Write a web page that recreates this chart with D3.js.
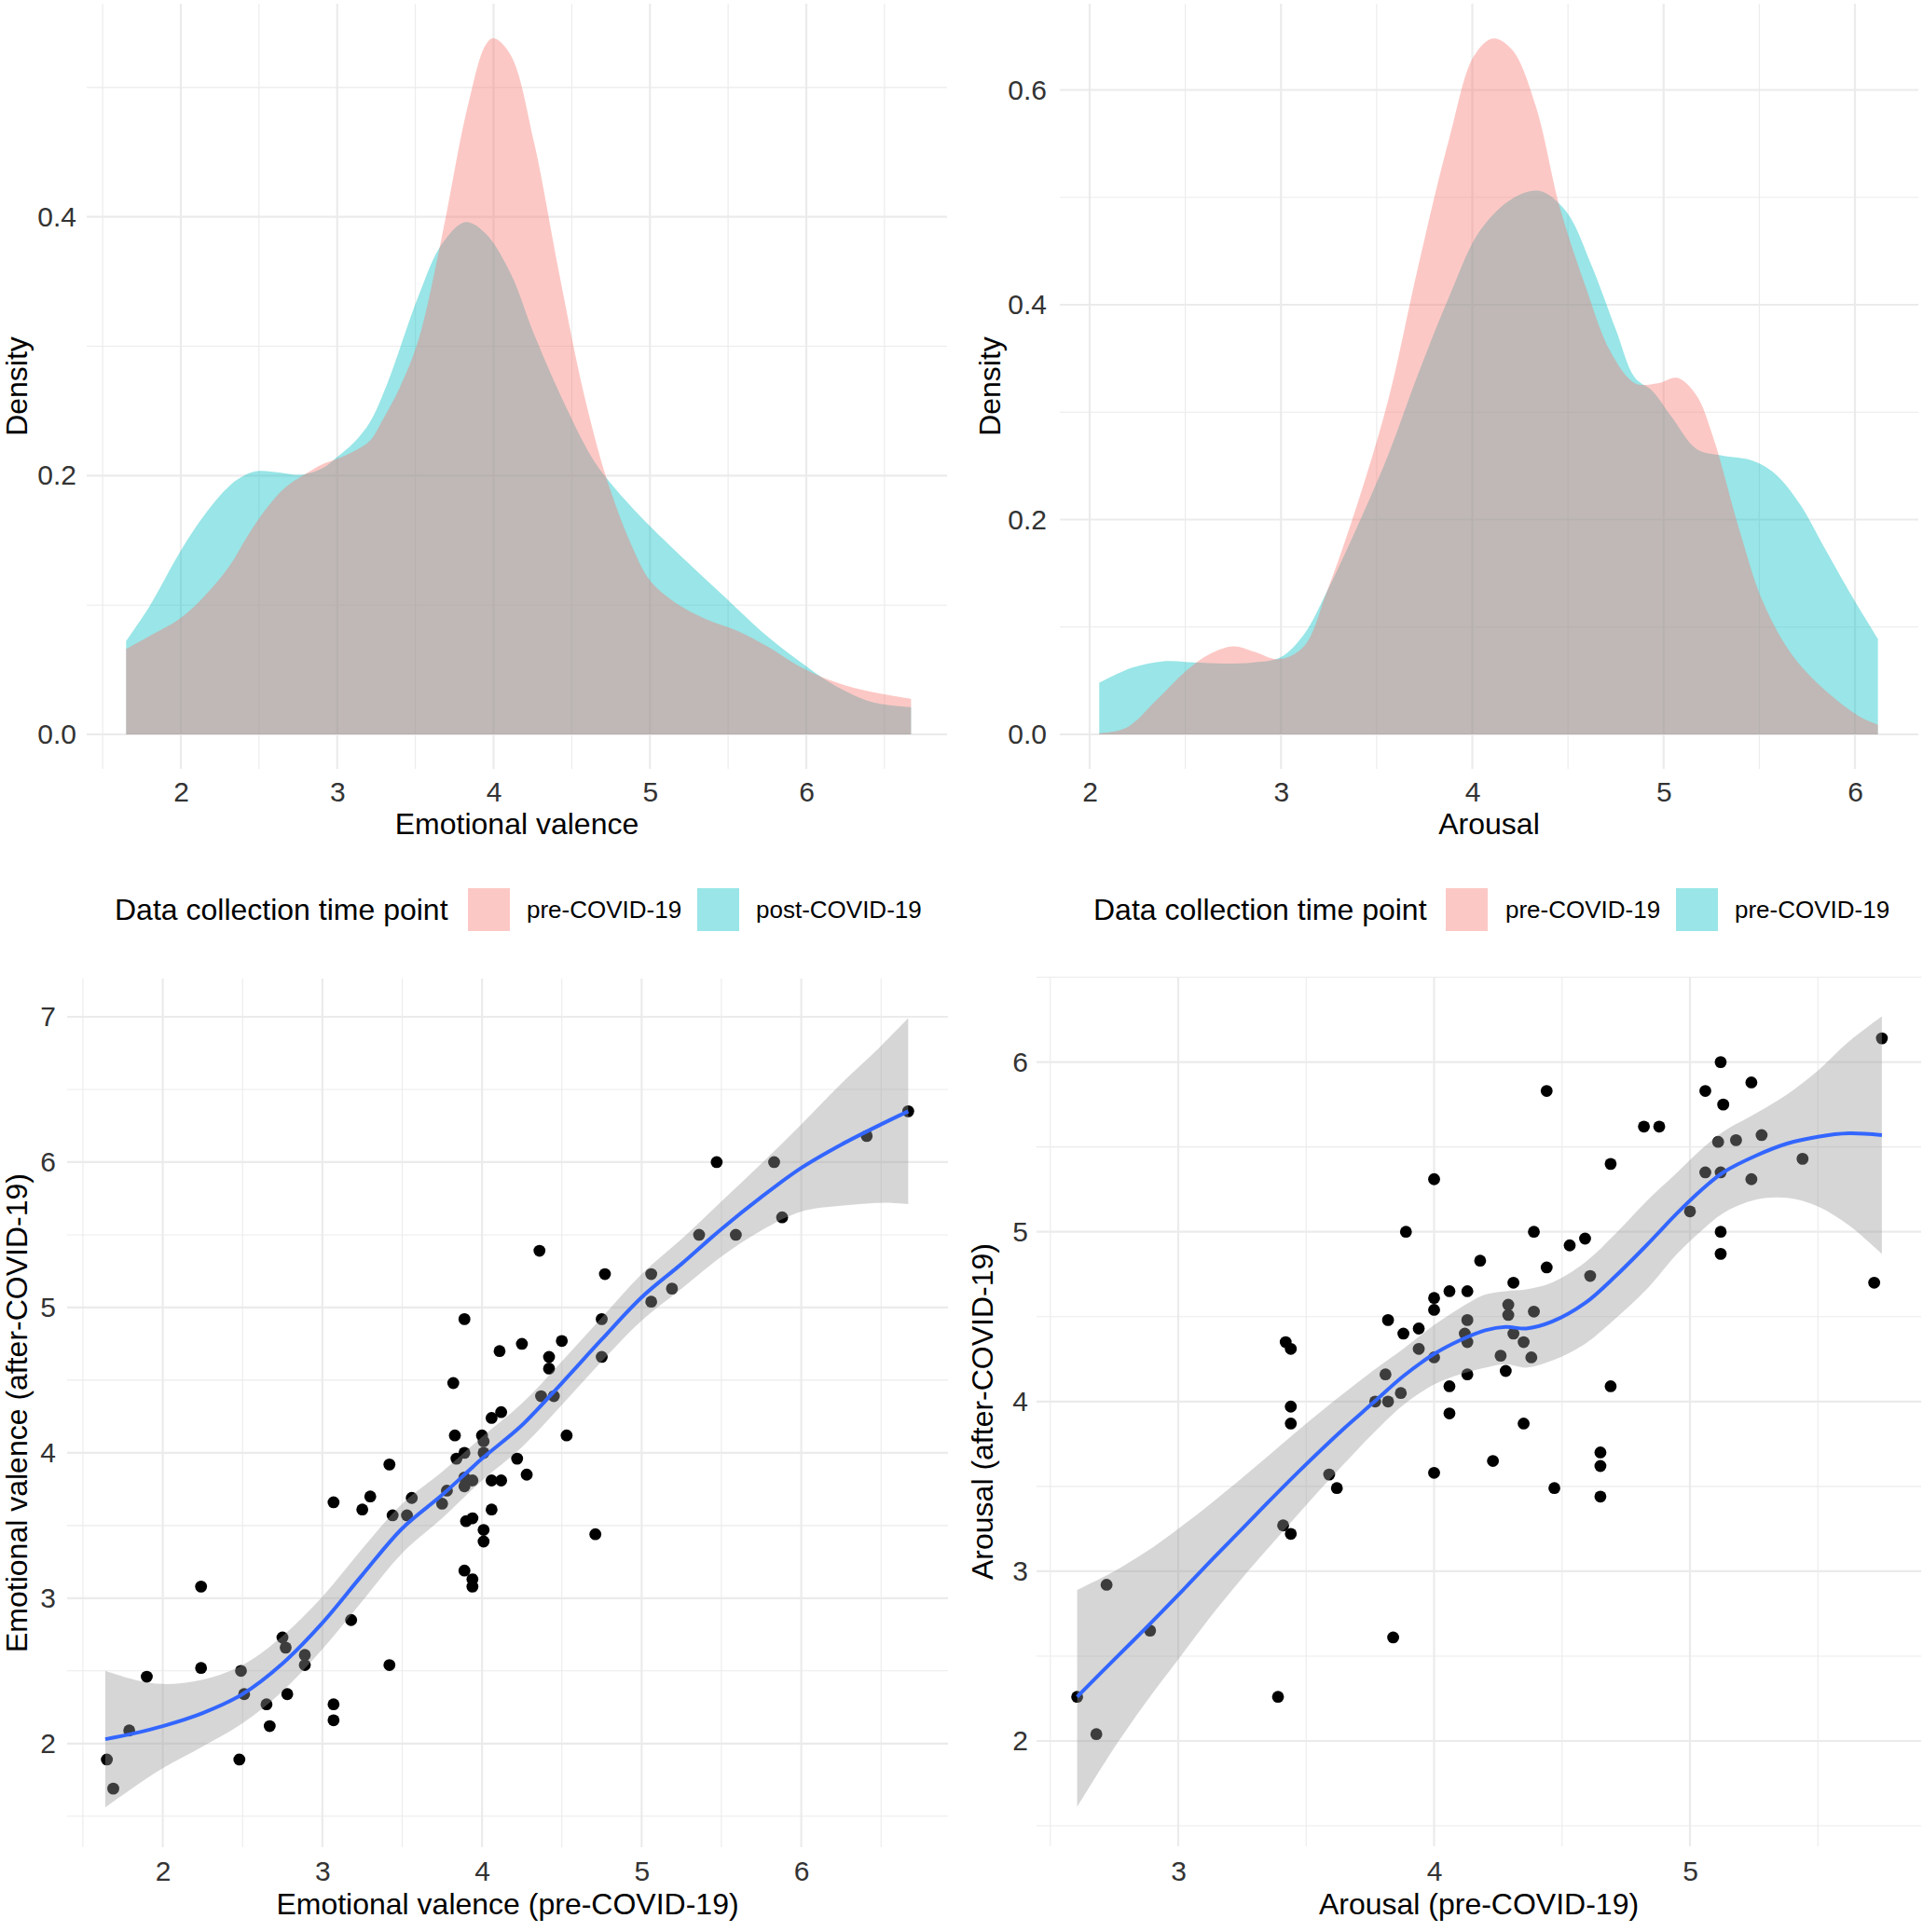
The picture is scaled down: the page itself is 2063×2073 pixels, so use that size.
<!DOCTYPE html>
<html><head><meta charset="utf-8">
<script src="https://cdn.jsdelivr.net/npm/d3@7"></script>
<style>
body{margin:0;background:#fff;}
svg{display:block;font-family:"Liberation Sans",Arial,Helvetica,sans-serif;}
</style>
</head><body>
<svg id="chart" width="2063" height="2073"></svg>
<script>
// ---------- DATA ----------
// Density of emotional valence  [value, density]
const valencePre = [[1.65,0.066],[1.8,0.076],[2.0,0.09],[2.16,0.108],[2.31,0.13],[2.43,0.154],[2.55,0.175],[2.67,0.191],[2.78,0.2],[2.91,0.209],[3.0,0.213],[3.11,0.219],[3.21,0.227],[3.29,0.243],[3.4,0.268],[3.52,0.305],[3.67,0.385],[3.83,0.483],[3.95,0.533],[4.0,0.538],[4.11,0.525],[4.26,0.457],[4.42,0.356],[4.58,0.262],[4.73,0.195],[4.89,0.144],[5.0,0.119],[5.16,0.102],[5.36,0.089],[5.56,0.08],[5.75,0.068],[5.95,0.053],[6.15,0.042],[6.34,0.035],[6.5,0.031],[6.67,0.0275]];
const valencePost = [[1.65,0.072],[1.8,0.099],[2.0,0.142],[2.16,0.171],[2.31,0.192],[2.41,0.2005],[2.5,0.2036],[2.63,0.2024],[2.77,0.2007],[2.91,0.206],[3.0,0.2144],[3.11,0.226],[3.21,0.2415],[3.32,0.271],[3.52,0.339],[3.67,0.379],[3.82,0.396],[3.95,0.387],[4.11,0.356],[4.26,0.309],[4.46,0.254],[4.65,0.21],[4.85,0.18],[5.0,0.161],[5.24,0.133],[5.48,0.106],[5.71,0.08],[5.95,0.057],[6.18,0.038],[6.42,0.025],[6.67,0.021]];
// Density of arousal  [value, density]
const arousalPre = [[2.05,0.001],[2.19,0.006],[2.35,0.032],[2.51,0.06],[2.63,0.075],[2.75,0.082],[2.86,0.077],[2.99,0.07],[3.12,0.082],[3.24,0.133],[3.4,0.215],[3.56,0.311],[3.72,0.438],[3.88,0.555],[4.01,0.632],[4.11,0.648],[4.21,0.637],[4.33,0.586],[4.46,0.489],[4.59,0.418],[4.72,0.357],[4.85,0.327],[4.97,0.327],[5.07,0.332],[5.17,0.316],[5.26,0.276],[5.39,0.194],[5.52,0.123],[5.68,0.072],[5.87,0.037],[6.03,0.016],[6.12,0.009]];
const arousalPost = [[2.05,0.048],[2.22,0.062],[2.38,0.068],[2.54,0.067],[2.7,0.066],[2.86,0.067],[3.0,0.072],[3.12,0.093],[3.24,0.133],[3.4,0.194],[3.56,0.26],[3.72,0.337],[3.88,0.408],[4.04,0.469],[4.21,0.499],[4.35,0.506],[4.49,0.487],[4.62,0.438],[4.75,0.377],[4.85,0.332],[4.94,0.32],[5.04,0.296],[5.17,0.266],[5.29,0.26],[5.46,0.255],[5.58,0.243],[5.71,0.215],[5.84,0.174],[5.97,0.133],[6.12,0.089]];

// Scatter: emotional valence pre vs after  [pre, after]
const valencePoints = [[1.65,1.89],[1.69,1.69],[1.79,2.09],[1.9,2.46],[2.24,3.08],[2.24,2.52],[2.49,2.5],[2.51,2.34],[2.48,1.89],[2.65,2.27],[2.67,2.12],[2.75,2.73],[2.77,2.66],[2.78,2.34],[2.89,2.61],[2.89,2.54],[3.07,3.66],[3.07,2.27],[3.07,2.16],[3.18,2.85],[3.25,3.61],[3.3,3.7],[3.42,3.92],[3.42,2.54],[3.44,3.57],[3.53,3.57],[3.56,3.69],[3.75,3.65],[3.78,3.74],[3.82,4.48],[3.83,4.12],[3.84,3.96],[3.89,4.92],[3.89,4.0],[3.89,3.77],[3.89,3.83],[3.9,3.53],[3.94,3.55],[3.94,3.81],[3.89,3.19],[3.94,3.13],[3.94,3.08],[4.0,4.12],[4.01,4.08],[4.01,4.0],[4.01,3.47],[4.01,3.39],[4.06,4.24],[4.06,3.81],[4.06,3.61],[4.11,4.7],[4.12,4.28],[4.12,3.81],[4.22,3.96],[4.25,4.75],[4.28,3.85],[4.36,5.39],[4.37,4.39],[4.42,4.66],[4.42,4.58],[4.45,4.39],[4.5,4.77],[4.53,4.12],[4.71,3.44],[4.75,4.92],[4.75,4.66],[4.77,5.23],[5.06,5.23],[5.06,5.04],[5.19,5.13],[5.36,5.5],[5.47,6.0],[5.59,5.5],[5.83,6.0],[5.88,5.62],[6.41,6.18],[6.67,6.35]];
// Loess fit for valence with confidence band
const valenceFitX  = [1.64,1.82,2.0,2.25,2.5,2.75,3.0,3.25,3.5,3.75,4.0,4.25,4.5,4.75,5.0,5.25,5.5,5.75,6.0,6.25,6.5,6.67];
const valenceFit   = [2.03,2.07,2.12,2.21,2.34,2.55,2.83,3.16,3.48,3.71,3.96,4.19,4.48,4.78,5.07,5.3,5.54,5.76,5.96,6.12,6.26,6.35];
const valenceUpper = [2.5,2.44,2.41,2.44,2.54,2.74,3.01,3.34,3.65,3.87,4.11,4.34,4.63,4.93,5.23,5.47,5.73,5.99,6.26,6.54,6.8,6.99];
const valenceLower = [1.56,1.7,1.83,1.98,2.14,2.36,2.65,2.98,3.31,3.55,3.81,4.04,4.33,4.63,4.91,5.13,5.35,5.53,5.66,5.7,5.72,5.71];

// Scatter: arousal pre vs after  [pre, after]
const arousalPoints = [[2.605,2.26],[2.68,2.04],[2.72,2.92],[2.89,2.65],[3.39,2.26],[3.41,3.27],[3.44,3.22],[3.42,4.35],[3.44,4.31],[3.44,3.97],[3.44,3.87],[3.59,3.57],[3.62,3.49],[3.77,4.0],[3.81,4.16],[3.82,4.0],[3.82,4.48],[3.84,2.61],[3.87,4.05],[3.88,4.4],[3.89,5.0],[3.94,4.43],[3.94,4.31],[4.0,5.31],[4.0,4.61],[4.0,4.54],[4.0,4.26],[4.0,3.58],[4.06,4.65],[4.06,4.09],[4.06,3.93],[4.13,4.65],[4.13,4.48],[4.12,4.4],[4.13,4.35],[4.13,4.16],[4.18,4.83],[4.23,3.65],[4.26,4.27],[4.28,4.18],[4.29,4.57],[4.29,4.51],[4.31,4.7],[4.31,4.4],[4.35,4.35],[4.35,3.87],[4.38,4.26],[4.39,4.53],[4.39,5.0],[4.44,5.83],[4.44,4.79],[4.47,3.49],[4.53,4.92],[4.59,4.96],[4.61,4.74],[4.65,3.7],[4.65,3.62],[4.65,3.44],[4.69,5.4],[4.69,4.09],[4.82,5.62],[4.88,5.62],[5.0,5.12],[5.06,5.83],[5.06,5.35],[5.12,6.0],[5.13,5.75],[5.11,5.53],[5.12,5.35],[5.12,5.0],[5.12,4.87],[5.18,5.54],[5.24,5.88],[5.24,5.31],[5.28,5.57],[5.44,5.43],[5.72,4.7],[5.75,6.14]];
// Loess fit for arousal with confidence band
const arousalFitX  = [2.605,2.75,2.87,3.0,3.12,3.25,3.36,3.5,3.64,3.76,3.88,4.0,4.1,4.2,4.28,4.36,4.46,4.59,4.71,4.83,4.95,5.04,5.13,5.26,5.38,5.5,5.62,5.75];
const arousalFit   = [2.26,2.48,2.66,2.86,3.05,3.25,3.42,3.63,3.83,3.99,4.15,4.28,4.36,4.42,4.44,4.43,4.47,4.58,4.74,4.92,5.11,5.24,5.35,5.45,5.52,5.56,5.58,5.57];
const arousalUpper = [2.89,3.0,3.11,3.25,3.39,3.55,3.69,3.87,4.04,4.18,4.31,4.45,4.55,4.63,4.65,4.66,4.7,4.82,4.99,5.18,5.35,5.48,5.59,5.7,5.81,5.95,6.12,6.27];
const arousalLower = [1.61,1.96,2.22,2.48,2.72,2.96,3.15,3.39,3.62,3.81,3.98,4.1,4.16,4.2,4.22,4.2,4.24,4.34,4.49,4.66,4.87,5.0,5.11,5.19,5.2,5.15,5.04,4.87];

// Ticks / labels
const valenceTicks = [2,3,4,5,6];
const arousalDensTicks = [2,3,4,5,6];
const densityTicksL = [0.0,0.2,0.4];
const densityTicksR = [0.0,0.2,0.4,0.6];
const valenceAfterTicks = [2,3,4,5,6,7];
const arousalPreTicks = [3,4,5];
const arousalAfterTicks = [2,3,4,5,6];
const legendTitle = "Data collection time point";
const legendLabelsLeft = ["pre-COVID-19","post-COVID-19"];
const legendLabelsRight = ["pre-COVID-19","pre-COVID-19"];
const groupColors = ["#F8766D","#00BFC4"];

// ---------- DRAWING ----------
const svg = d3.select("#chart");
const TICK_FS = 30, TITLE_FS = 32, LEG_FS = 26;
const GRID = "#EBEBEB";

function panel(o){
  const g = svg.append("g");
  const [L,R,T,B] = o.box;
  o.xMinor.forEach(v=>{ const px=o.x(v); if(px>=L&&px<=R) g.append("line").attr("x1",px).attr("x2",px).attr("y1",T).attr("y2",B).attr("stroke",GRID).attr("stroke-width",1.1);});
  o.yMinor.forEach(v=>{ const py=o.y(v); if(py>=T&&py<=B) g.append("line").attr("x1",L).attr("x2",R).attr("y1",py).attr("y2",py).attr("stroke",GRID).attr("stroke-width",1.1);});
  o.xTicks.forEach(v=>{ const px=o.x(v); g.append("line").attr("x1",px).attr("x2",px).attr("y1",T).attr("y2",B).attr("stroke",GRID).attr("stroke-width",2.2);});
  o.yTicks.forEach(v=>{ const py=o.y(v); g.append("line").attr("x1",L).attr("x2",R).attr("y1",py).attr("y2",py).attr("stroke",GRID).attr("stroke-width",2.2);});
  const ax = svg.append("g").attr("transform",`translate(0,${o.xLabelTop})`)
    .call(d3.axisBottom(o.x).tickValues(o.xTicks).tickSize(0).tickPadding(0).tickFormat(o.xFmt));
  const ay = svg.append("g").attr("transform",`translate(${o.yLabelRight},0)`)
    .call(d3.axisLeft(o.y).tickValues(o.yTicks).tickSize(0).tickPadding(0).tickFormat(o.yFmt));
  [ax,ay].forEach(a=>{ a.select(".domain").remove(); a.selectAll("text").attr("font-size",TICK_FS).attr("fill","#333").attr("font-family",'"Liberation Sans",Arial,sans-serif');});
  svg.append("text").attr("x",(L+R)/2).attr("y",o.xTitleY).attr("dy","0.35em").attr("text-anchor","middle")
    .attr("font-size",TITLE_FS).attr("fill","#000").text(o.xTitle);
  svg.append("text").attr("transform",`translate(${o.yTitleX},${(T+B)/2}) rotate(-90)`).attr("dy","0.35em").attr("text-anchor","middle")
    .attr("font-size",TITLE_FS).attr("fill","#000").text(o.yTitle);
  return g;
}

function densityPanel(o, pre, post){
  const g = panel(o);
  const area = d3.area().x(d=>o.x(d[0])).y0(o.y(0)).y1(d=>o.y(Math.max(0,d[1]))).curve(d3.curveCatmullRom.alpha(0.5));
  g.append("path").datum(post).attr("d",area).attr("fill",groupColors[1]).attr("fill-opacity",0.4);
  g.append("path").datum(pre).attr("d",area).attr("fill",groupColors[0]).attr("fill-opacity",0.4);
}

function scatterPanel(o, pts, fx, fit, lo, hi){
  const g = panel(o);
  g.selectAll("circle.pt").data(pts).join("circle").attr("class","pt")
    .attr("cx",d=>o.x(d[0])).attr("cy",d=>o.y(d[1])).attr("r",6.4).attr("fill","#000");
  const band = fx.map((v,i)=>[v,lo[i],hi[i]]);
  g.append("path").datum(band)
    .attr("d",d3.area().x(d=>o.x(d[0])).y0(d=>o.y(d[1])).y1(d=>o.y(d[2])).curve(d3.curveCatmullRom.alpha(0.5)))
    .attr("fill","#999999").attr("fill-opacity",0.4);
  g.append("path").datum(fx.map((v,i)=>[v,fit[i]]))
    .attr("d",d3.line().x(d=>o.x(d[0])).y(d=>o.y(d[1])).curve(d3.curveCatmullRom.alpha(0.5)))
    .attr("fill","none").attr("stroke","#3366FF").attr("stroke-width",4);
}

const fmt1 = d3.format(".1f"), fmt0 = d3.format("d");
const range = (a,b,s)=>d3.range(a,b+1e-9,s);

densityPanel({
  x: d3.scaleLinear().domain([2,6]).range([194,865]),
  y: d3.scaleLinear().domain([0,0.4]).range([788,232.7]),
  box:[93,1016,4,825],
  xTicks: valenceTicks, xMinor: range(1.5,6.5,1),
  yTicks: densityTicksL, yMinor:[0.1,0.3,0.5],
  xFmt: fmt0, yFmt: fmt1,
  xLabelTop: 839, yLabelRight: 82, xTitleY: 884, yTitleX: 18,
  xTitle:"Emotional valence", yTitle:"Density"
}, valencePre, valencePost);

densityPanel({
  x: d3.scaleLinear().domain([2,6]).range([1169,1990]),
  y: d3.scaleLinear().domain([0,0.6]).range([788,96.5]),
  box:[1137,2058,4,825],
  xTicks: arousalDensTicks, xMinor: range(2.5,5.5,1),
  yTicks: densityTicksR, yMinor:[0.1,0.3,0.5],
  xFmt: fmt0, yFmt: fmt1,
  xLabelTop: 839, yLabelRight: 1123, xTitleY: 884, yTitleX: 1062,
  xTitle:"Arousal", yTitle:"Density"
}, arousalPre, arousalPost);

function legend(x0, labels, keyX, labelX){
  const y = 976;
  svg.append("text").attr("x",x0).attr("y",y).attr("dy","0.35em").attr("font-size",TITLE_FS).attr("fill","#000").text(legendTitle);
  labels.forEach((lab,i)=>{
    svg.append("rect").attr("x",keyX[i]).attr("y",y-23).attr("width",45).attr("height",46)
      .attr("fill",groupColors[i]).attr("fill-opacity",0.4);
    svg.append("text").attr("x",labelX[i]).attr("y",y).attr("dy","0.35em").attr("font-size",LEG_FS).attr("fill","#000").text(lab);
  });
}
legend(123, legendLabelsLeft, [502,748], [565,811]);
legend(1173, legendLabelsRight, [1551,1798], [1615,1861]);

scatterPanel({
  x: d3.scaleLinear().domain([2,6]).range([174.6,859.6]),
  y: d3.scaleLinear().domain([2,7]).range([1870.8,1091]),
  box:[72,1017,1050,1982],
  xTicks: valenceTicks, xMinor: range(1.5,6.5,1),
  yTicks: valenceAfterTicks, yMinor: range(1.5,6.5,1),
  xFmt: fmt0, yFmt: fmt0,
  xLabelTop: 1997, yLabelRight: 60, xTitleY: 2043, yTitleX: 18,
  xTitle:"Emotional valence (pre-COVID-19)", yTitle:"Emotional valence (after-COVID-19)"
}, valencePoints, valenceFitX, valenceFit, valenceLower, valenceUpper);

scatterPanel({
  x: d3.scaleLinear().domain([3,5]).range([1264,1813]),
  y: d3.scaleLinear().domain([2,6]).range([1868,1139.6]),
  box:[1112,2061,1048,1981],
  xTicks: arousalPreTicks, xMinor: range(2.5,5.5,1),
  yTicks: arousalAfterTicks, yMinor: range(1.5,6.5,1),
  xFmt: fmt0, yFmt: fmt0,
  xLabelTop: 1997, yLabelRight: 1103, xTitleY: 2043, yTitleX: 1054,
  xTitle:"Arousal (pre-COVID-19)", yTitle:"Arousal (after-COVID-19)"
}, arousalPoints, arousalFitX, arousalFit, arousalLower, arousalUpper);
</script>
</body></html>
